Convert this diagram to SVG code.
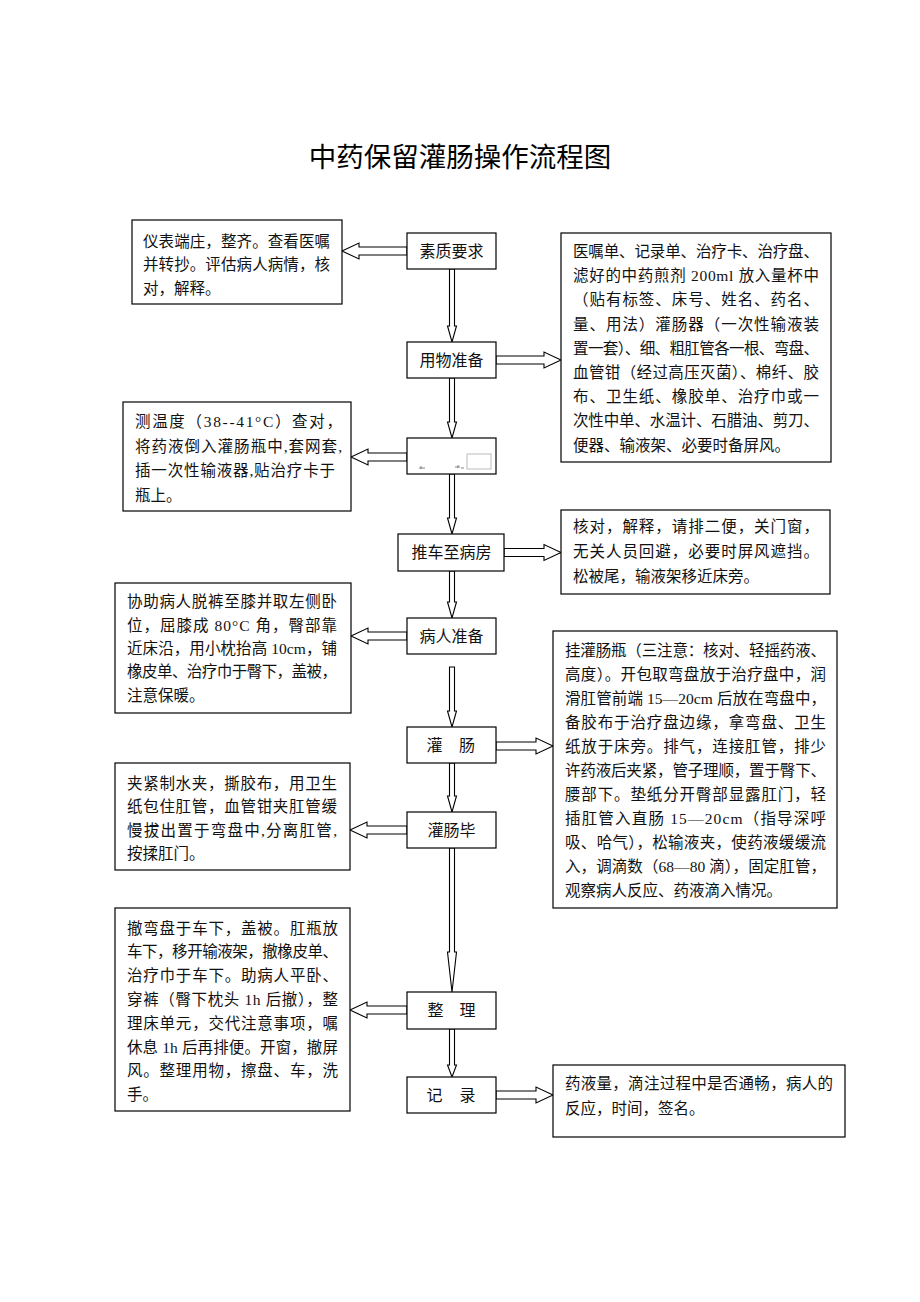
<svg xmlns="http://www.w3.org/2000/svg" width="920" height="1302" viewBox="0 0 920 1302">
<style>
.box{fill:#fff;stroke:#000;stroke-width:1.2}
.arr{fill:#fff;stroke:#000;stroke-width:1.1;stroke-linejoin:miter}
.t{font-family:"Liberation Serif","Noto Sans CJK SC",serif;font-size:15.5px;fill:#111;dominant-baseline:central}
.c{font-family:"Liberation Serif","Noto Sans CJK SC",serif;font-size:16px;fill:#111;dominant-baseline:central;text-anchor:middle}
.title{font-family:"Liberation Serif","Noto Sans CJK SC",serif;font-size:27.5px;fill:#000;dominant-baseline:central;text-anchor:middle}
</style>
<rect width="920" height="1302" fill="#fff"/>
<text class="title" x="460" y="157">中药保留灌肠操作流程图</text>

<g id="connectors">
<polygon class="arr" points="449.5,269 454.5,269 454.5,326 456.5,326 452,342 447.5,326 449.5,326"/>
<polygon class="arr" points="449.5,378 454.5,378 454.5,422 456.5,422 452,438 447.5,422 449.5,422"/>
<polygon class="arr" points="449.5,474 454.5,474 454.5,518 456.5,518 452,534 447.5,518 449.5,518"/>
<polygon class="arr" points="449.5,571 454.5,571 454.5,602 456.5,602 452,618 447.5,602 449.5,602"/>
<polygon class="arr" points="449.5,667 454.5,667 454.5,711 456.5,711 452,727 447.5,711 449.5,711"/>
<polygon class="arr" points="449.5,763 454.5,763 454.5,796 456.5,796 452,812 447.5,796 449.5,796"/>
<polygon class="arr" points="449.5,848 454.5,848 454.5,952 456.5,952 452,992 447.5,952 449.5,952"/>
<polygon class="arr" points="449.5,1029 454.5,1029 454.5,1065 456.5,1065 452,1077 447.5,1065 449.5,1065"/>
<polygon class="arr" points="407,247 359,247 359,243 342,251 359,259 359,255 407,255"/>
<polygon class="arr" points="407,453 368,453 368,449 351,457 368,465 368,461 407,461"/>
<polygon class="arr" points="407,632 368,632 368,628 351,636 368,644 368,640 407,640"/>
<polygon class="arr" points="407,826 367,826 367,822 350,830 367,838 367,834 407,834"/>
<polygon class="arr" points="407,1006 367,1006 367,1002 350,1010 367,1018 367,1014 407,1014"/>
<polygon class="arr" points="496,356 544,356 544,352 561,360 544,368 544,364 496,364"/>
<polygon class="arr" points="504,548.5 544,548.5 544,544.5 561,552.5 544,560.5 544,556.5 504,556.5"/>
<polygon class="arr" points="496,742 536,742 536,738 553,746 536,754 536,750 496,750"/>
<polygon class="arr" points="496,1091 536,1091 536,1087 553,1095 536,1103 536,1099 496,1099"/>
</g>

<g id="n-suzhi">
<rect class="box" x="407" y="233" width="89" height="36"/>
<text class="c" x="451.5" y="251">素质要求</text>
</g>
<g id="n-yongwu">
<rect class="box" x="407" y="342" width="89" height="36"/>
<text class="c" x="451.5" y="360">用物准备</text>
</g>
<g id="n-blank">
<rect class="box" x="407" y="438" width="89" height="36"/>
<rect x="467" y="454" width="24" height="15" fill="none" stroke="#aaa" stroke-width="0.8"/>
<path d="M419,468 h6 M421,466 v3 M455,467 h5 M458,465 v3 M461,468 h3" stroke="#555" stroke-width="0.7" fill="none"/>
</g>
<g id="n-tuiche">
<rect class="box" x="398" y="534" width="106" height="37"/>
<text class="c" x="451.5" y="552.5">推车至病房</text>
</g>
<g id="n-bingren">
<rect class="box" x="407" y="618" width="89" height="36"/>
<text class="c" x="451.5" y="636">病人准备</text>
</g>
<g id="n-guanchang">
<rect class="box" x="407" y="727" width="89" height="36"/>
<text class="c" x="434.5" y="745">灌</text>
<text class="c" x="467" y="745">肠</text>
</g>
<g id="n-guanchangbi">
<rect class="box" x="407" y="812" width="89" height="36"/>
<text class="c" x="451.5" y="830">灌肠毕</text>
</g>
<g id="n-zhengli">
<rect class="box" x="407" y="992" width="89" height="37"/>
<text class="c" x="435.5" y="1010.5">整</text>
<text class="c" x="467.5" y="1010.5">理</text>
</g>
<g id="n-jilu">
<rect class="box" x="407" y="1077" width="89" height="36"/>
<text class="c" x="434.5" y="1095">记</text>
<text class="c" x="467.5" y="1095">录</text>
</g>

<g id="b-suzhi">
<rect class="box" x="132" y="220" width="210" height="84"/>
<text class="t" x="143" y="241" textLength="187" lengthAdjust="spacing">仪表端庄，整齐。查看医嘱</text>
<text class="t" x="143" y="264.5" textLength="187" lengthAdjust="spacing">并转抄。评估病人病情，核</text>
<text class="t" x="143" y="288">对，解释。</text>
</g>
<g id="b-yongwu">
<rect class="box" x="561" y="233" width="270" height="229"/>
<text class="t" x="573" y="251.5" textLength="246" lengthAdjust="spacing">医嘱单、记录单、治疗卡、治疗盘、</text>
<text class="t" x="573" y="275.7" textLength="246" lengthAdjust="spacing">滤好的中药煎剂 200ml 放入量杯中</text>
<text class="t" x="573" y="299.9" textLength="246" lengthAdjust="spacing">（贴有标签、床号、姓名、药名、</text>
<text class="t" x="573" y="324.1" textLength="246" lengthAdjust="spacing">量、用法）灌肠器（一次性输液装</text>
<text class="t" x="573" y="348.3" textLength="246" lengthAdjust="spacing">置一套）、细、粗肛管各一根、弯盘、</text>
<text class="t" x="573" y="372.5" textLength="246" lengthAdjust="spacing">血管钳（经过高压灭菌）、棉纤、胶</text>
<text class="t" x="573" y="396.7" textLength="246" lengthAdjust="spacing">布、卫生纸、橡胶单、治疗巾或一</text>
<text class="t" x="573" y="420.9" textLength="246" lengthAdjust="spacing">次性中单、水温计、石腊油、剪刀、</text>
<text class="t" x="573" y="445.1">便器、输液架、必要时备屏风。</text>
</g>
<g id="b-cewen">
<rect class="box" x="123" y="402" width="228" height="109"/>
<text class="t" x="135" y="421.5" textLength="207" lengthAdjust="spacing">测温度（38--41°C）查对，</text>
<text class="t" x="135" y="446" textLength="207" lengthAdjust="spacing">将药液倒入灌肠瓶中,套网套,</text>
<text class="t" x="135" y="470.5" textLength="200" lengthAdjust="spacing">插一次性输液器,贴治疗卡于</text>
<text class="t" x="135" y="495">瓶上。</text>
</g>
<g id="b-tuiche">
<rect class="box" x="561" y="510" width="269" height="84"/>
<text class="t" x="573" y="526" textLength="246" lengthAdjust="spacing">核对，解释，请排二便，关门窗，</text>
<text class="t" x="573" y="551" textLength="246" lengthAdjust="spacing">无关人员回避，必要时屏风遮挡。</text>
<text class="t" x="573" y="576">松被尾，输液架移近床旁。</text>
</g>
<g id="b-bingren">
<rect class="box" x="115" y="583" width="236" height="130"/>
<text class="t" x="127" y="601.7" textLength="210" lengthAdjust="spacing">协助病人脱裤至膝并取左侧卧</text>
<text class="t" x="127" y="625" textLength="210" lengthAdjust="spacing">位，屈膝成 80°C 角，臀部靠</text>
<text class="t" x="127" y="648.3" textLength="210" lengthAdjust="spacing">近床沿，用小枕抬高 10cm，铺</text>
<text class="t" x="127" y="671.7" textLength="210" lengthAdjust="spacing">橡皮单、治疗巾于臀下，盖被，</text>
<text class="t" x="127" y="695">注意保暖。</text>
</g>
<g id="b-guanchang">
<rect class="box" x="553" y="631" width="284" height="277"/>
<text class="t" x="565" y="650" textLength="261" lengthAdjust="spacing">挂灌肠瓶（三注意：核对、轻摇药液、</text>
<text class="t" x="565" y="674" textLength="261" lengthAdjust="spacing">高度）。开包取弯盘放于治疗盘中，润</text>
<text class="t" x="565" y="698" textLength="261" lengthAdjust="spacing">滑肛管前端 15—20cm 后放在弯盘中，</text>
<text class="t" x="565" y="722" textLength="261" lengthAdjust="spacing">备胶布于治疗盘边缘，拿弯盘、卫生</text>
<text class="t" x="565" y="746" textLength="261" lengthAdjust="spacing">纸放于床旁。排气，连接肛管，排少</text>
<text class="t" x="565" y="770" textLength="261" lengthAdjust="spacing">许药液后夹紧，管子理顺，置于臀下、</text>
<text class="t" x="565" y="794" textLength="261" lengthAdjust="spacing">腰部下。垫纸分开臀部显露肛门，轻</text>
<text class="t" x="565" y="818" textLength="261" lengthAdjust="spacing">插肛管入直肠 15—20cm（指导深呼</text>
<text class="t" x="565" y="842" textLength="261" lengthAdjust="spacing">吸、哈气），松输液夹，使药液缓缓流</text>
<text class="t" x="565" y="866" textLength="261" lengthAdjust="spacing">入，调滴数（68—80 滴），固定肛管，</text>
<text class="t" x="565" y="890">观察病人反应、药液滴入情况。</text>
</g>
<g id="b-guanchangbi">
<rect class="box" x="115" y="763" width="235" height="107"/>
<text class="t" x="127" y="783" textLength="210" lengthAdjust="spacing">夹紧制水夹，撕胶布，用卫生</text>
<text class="t" x="127" y="806.5" textLength="210" lengthAdjust="spacing">纸包住肛管，血管钳夹肛管缓</text>
<text class="t" x="127" y="830" textLength="210" lengthAdjust="spacing">慢拔出置于弯盘中,分离肛管,</text>
<text class="t" x="127" y="853.5">按揉肛门。</text>
</g>
<g id="b-zhengli">
<rect class="box" x="115" y="908" width="235" height="203"/>
<text class="t" x="127" y="928" textLength="211" lengthAdjust="spacing">撤弯盘于车下，盖被。肛瓶放</text>
<text class="t" x="127" y="951.8" textLength="211" lengthAdjust="spacing">车下，移开输液架，撤橡皮单、</text>
<text class="t" x="127" y="975.6" textLength="211" lengthAdjust="spacing">治疗巾于车下。助病人平卧、</text>
<text class="t" x="127" y="999.4" textLength="211" lengthAdjust="spacing">穿裤（臀下枕头 1h 后撤），整</text>
<text class="t" x="127" y="1023.2" textLength="211" lengthAdjust="spacing">理床单元，交代注意事项，嘱</text>
<text class="t" x="127" y="1047" textLength="211" lengthAdjust="spacing">休息 1h 后再排便。开窗，撤屏</text>
<text class="t" x="127" y="1070.8" textLength="211" lengthAdjust="spacing">风。整理用物，擦盘、车，洗</text>
<text class="t" x="127" y="1094.6">手。</text>
</g>
<g id="b-jilu">
<rect class="box" x="553" y="1065" width="292" height="72"/>
<text class="t" x="565" y="1083" textLength="268" lengthAdjust="spacing">药液量，滴注过程中是否通畅，病人的</text>
<text class="t" x="565" y="1108">反应，时间，签名。</text>
</g>
</svg>
